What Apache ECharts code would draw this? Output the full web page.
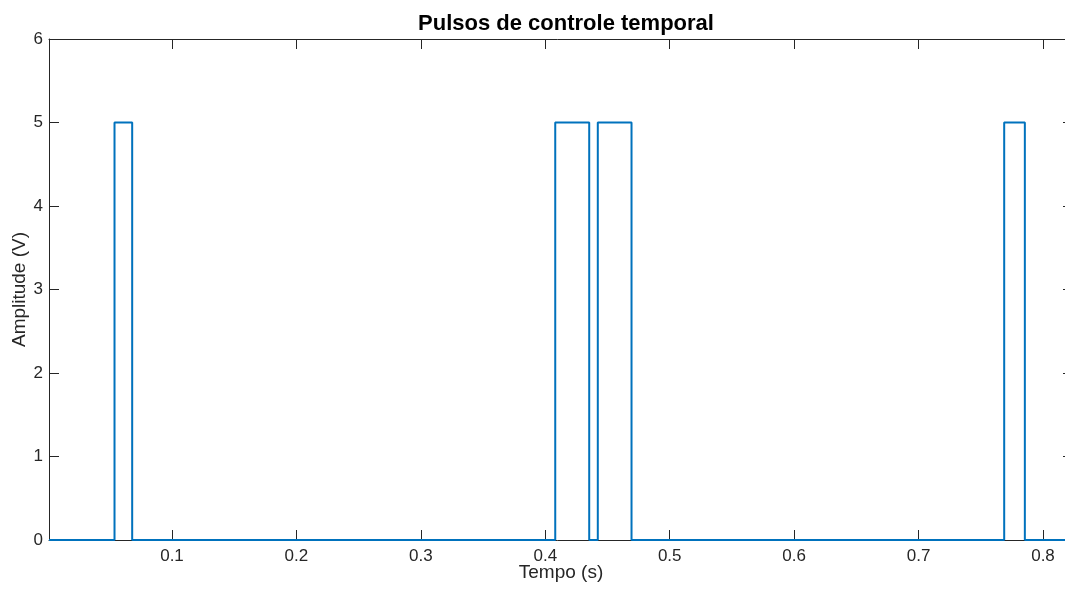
<!DOCTYPE html>
<html>
<head>
<meta charset="utf-8">
<script src="https://cdn.jsdelivr.net/npm/echarts@6/dist/echarts.min.js"></script>
<style>
  html, body { margin: 0; padding: 0; background: #fff; }
  #chart { width: 1065px; height: 589px; }
</style>
</head>
<body>
<div id="chart"></div>
<script>
// Control pulse edges (seconds) and logic levels (volts)
const pulseStart = [0.0538, 0.4080, 0.4422, 0.7688];
const pulseEnd   = [0.0680, 0.4353, 0.4693, 0.7854];
const highLevel = 5;
const lowLevel = 0;
const timeStart = 0.00115;
const timeEnd = 0.8241;

// Axis tick labels
const xTicks = [0.1, 0.2, 0.3, 0.4, 0.5, 0.6, 0.7, 0.8];
const yMin = 0, yMax = 6, yStep = 1;

// Square wave as [time, level] pairs with vertical edges
const wave = [[timeStart, lowLevel]];
pulseStart.forEach((t0, i) => {
  const t1 = pulseEnd[i];
  wave.push([t0, lowLevel], [t0, highLevel], [t1, highLevel], [t1, lowLevel]);
});
wave.push([timeEnd, lowLevel]);

const axisColor = '#262626';
const font = '"Liberation Sans", Arial, Helvetica, sans-serif';

const chart = echarts.init(document.getElementById('chart'), null, { renderer: 'canvas' });
chart.setOption({
  animation: false,
  backgroundColor: '#ffffff',
  title: {
    text: 'Pulsos de controle temporal',
    left: 561, top: 8, textAlign: 'center',
    textStyle: { fontFamily: font, fontSize: 22, fontWeight: 'bold', color: '#000' }
  },
  grid: { left: 49, right: -8, top: 39, bottom: 49, containLabel: false, outerBoundsMode: 'none' },
  xAxis: [{
    type: 'value', min: timeStart, max: timeEnd,
    name: 'Tempo (s)', nameLocation: 'middle', nameGap: 23, nameMoveOverlap: false,
    nameTextStyle: { fontFamily: font, fontSize: 19, color: axisColor },
    axisLine: { show: true, onZero: false, lineStyle: { color: axisColor, width: 1 } },
    axisTick: { inside: true, length: 10, customValues: xTicks, lineStyle: { color: axisColor } },
    axisLabel: { customValues: xTicks, fontFamily: font, fontSize: 17, color: axisColor, margin: 8,
                 formatter: v => String(Math.round(v * 10) / 10) },
    splitLine: { show: false }
  }, {
    type: 'value', position: 'top', min: timeStart, max: timeEnd,
    axisLine: { show: true, onZero: false, lineStyle: { color: axisColor, width: 1 } },
    axisTick: { inside: true, length: 10, customValues: xTicks, lineStyle: { color: axisColor } },
    axisLabel: { show: false },
    splitLine: { show: false }
  }],
  yAxis: [{
    type: 'value', min: yMin, max: yMax, interval: yStep,
    name: 'Amplitude (V)', nameLocation: 'middle', nameGap: 20, nameMoveOverlap: false,
    nameTextStyle: { fontFamily: font, fontSize: 19, color: axisColor },
    axisLine: { show: true, onZero: false, lineStyle: { color: axisColor, width: 1 } },
    axisTick: { show: true, inside: true, length: 10, lineStyle: { color: axisColor } },
    axisLabel: { fontFamily: font, fontSize: 17, color: axisColor, margin: 6 },
    splitLine: { show: false }
  }, {
    type: 'value', position: 'right', min: yMin, max: yMax, interval: yStep,
    axisLine: { show: true, onZero: false, lineStyle: { color: axisColor, width: 1 } },
    axisTick: { show: true, inside: true, length: 10, lineStyle: { color: axisColor } },
    axisLabel: { show: false },
    splitLine: { show: false }
  }],
  series: [{
    type: 'line',
    data: wave,
    xAxisIndex: 0, yAxisIndex: 0,
    showSymbol: false,
    symbol: 'none',
    lineStyle: { color: '#0072BD', width: 2 },
    z: 5
  }]
});
</script>
</body>
</html>
